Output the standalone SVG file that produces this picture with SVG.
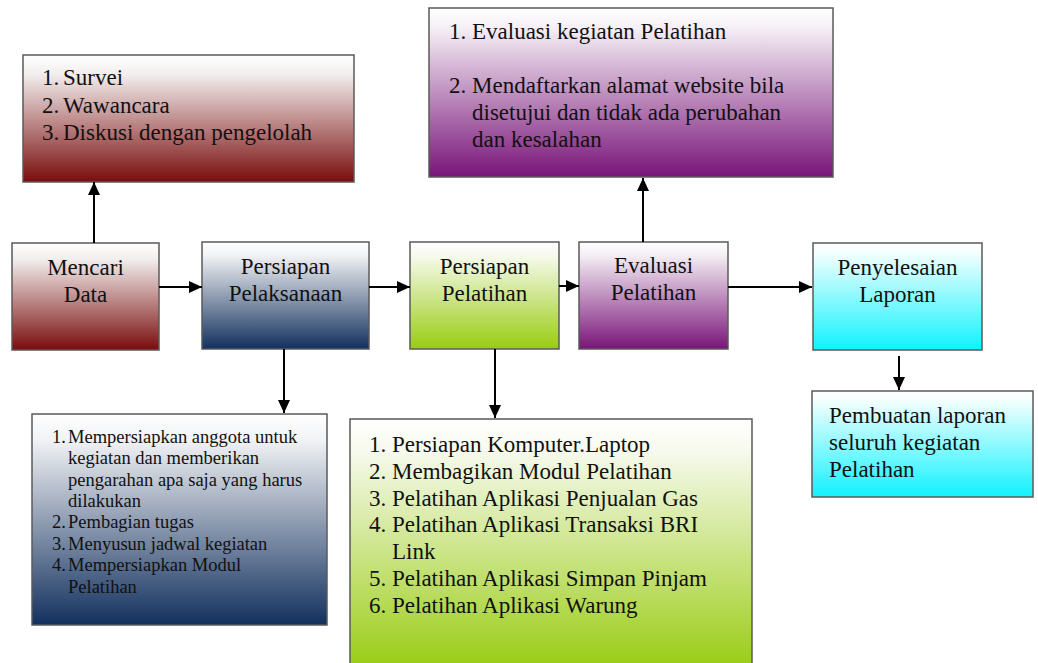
<svg xmlns="http://www.w3.org/2000/svg" width="1038" height="663" viewBox="0 0 1038 663">
<defs>
<linearGradient id="gRed" x1="0" y1="0" x2="0" y2="1"><stop offset="0" stop-color="#ffffff"/><stop offset="0.15" stop-color="#f3eeee"/><stop offset="1" stop-color="#7a0c0c"/></linearGradient>
<linearGradient id="gNavy" x1="0" y1="0" x2="0" y2="1"><stop offset="0" stop-color="#ffffff"/><stop offset="0.12" stop-color="#f2f3f5"/><stop offset="1" stop-color="#12305e"/></linearGradient>
<linearGradient id="gGreen" x1="0" y1="0" x2="0" y2="1"><stop offset="0" stop-color="#ffffff"/><stop offset="0.12" stop-color="#f7faee"/><stop offset="1" stop-color="#99cc11"/></linearGradient>
<linearGradient id="gPurple" x1="0" y1="0" x2="0" y2="1"><stop offset="0" stop-color="#ffffff"/><stop offset="0.12" stop-color="#f5eff5"/><stop offset="1" stop-color="#791479"/></linearGradient>
<linearGradient id="gCyan" x1="0" y1="0" x2="0" y2="1"><stop offset="0" stop-color="#ffffff"/><stop offset="0.1" stop-color="#f2ffff"/><stop offset="1" stop-color="#10f2ff"/></linearGradient>
<marker id="arr" markerUnits="userSpaceOnUse" markerWidth="13" markerHeight="12" refX="13" refY="6" orient="auto"><path d="M0,0 L13,6 L0,12 z" fill="#000"/></marker>
<style>
rect{stroke:#5a5a5a;stroke-width:1.5}
text{font-family:'Liberation Serif','DejaVu Serif',serif;fill:#111}
.t{font-size:23px}
.c{text-anchor:middle}
.s{font-size:18.5px}
.con line{stroke:#000;stroke-width:2;marker-end:url(#arr)}
</style>
</defs>

<g font-family="Liberation Serif, DejaVu Serif, serif">
<g id="box-metode">
<rect x="23" y="55" width="331" height="127" fill="url(#gRed)"/>
<text class="t" x="42" y="85">1.</text><text class="t" x="63" y="85">Survei</text>
<text class="t" x="42" y="112.5">2.</text><text class="t" x="63" y="112.5">Wawancara</text>
<text class="t" x="42" y="140">3.</text><text class="t" x="63" y="140">Diskusi dengan pengelolah</text>
</g>

<g id="node-mencari-data">
<rect x="12" y="243" width="147" height="107" fill="url(#gRed)"/>
<text class="t c" x="85.5" y="275">Mencari</text>
<text class="t c" x="85.5" y="302">Data</text>
</g>

<g id="node-persiapan-pelaksanaan">
<rect x="202" y="242" width="167" height="107" fill="url(#gNavy)"/>
<text class="t c" x="285.5" y="274">Persiapan</text>
<text class="t c" x="285.5" y="301">Pelaksanaan</text>
</g>

<g id="node-persiapan-pelatihan">
<rect x="410" y="242" width="149" height="107" fill="url(#gGreen)"/>
<text class="t c" x="484.5" y="274">Persiapan</text>
<text class="t c" x="484.5" y="301">Pelatihan</text>
</g>

<g id="node-evaluasi-pelatihan">
<rect x="579" y="242" width="149" height="107" fill="url(#gPurple)"/>
<text class="t c" x="653.5" y="273">Evaluasi</text>
<text class="t c" x="653.5" y="300">Pelatihan</text>
</g>

<g id="node-penyelesaian-laporan">
<rect x="813" y="243" width="169" height="107" fill="url(#gCyan)"/>
<text class="t c" x="897.5" y="275">Penyelesaian</text>
<text class="t c" x="897.5" y="302">Laporan</text>
</g>

<g id="box-evaluasi">
<rect x="429" y="8" width="404" height="169" fill="url(#gPurple)"/>
<text class="t" x="449" y="39">1.</text><text class="t" x="472" y="39">Evaluasi kegiatan Pelatihan</text>
<text class="t" x="449" y="93">2.</text><text class="t" x="472" y="93">Mendaftarkan alamat website bila</text>
<text class="t" x="472" y="120">disetujui dan tidak ada perubahan</text>
<text class="t" x="472" y="147">dan kesalahan</text>
</g>

<g id="box-pelaksanaan">
<rect x="32" y="414" width="295" height="211" fill="url(#gNavy)"/>
<text class="s" x="52" y="442.5">1.</text><text class="s" x="68" y="442.5">Mempersiapkan anggota untuk</text>
<text class="s" x="68" y="464">kegiatan dan memberikan</text>
<text class="s" x="68" y="485.5">pengarahan apa saja yang harus</text>
<text class="s" x="68" y="507">dilakukan</text>
<text class="s" x="52" y="528">2.</text><text class="s" x="68" y="528">Pembagian tugas</text>
<text class="s" x="52" y="549.5">3.</text><text class="s" x="68" y="549.5">Menyusun jadwal kegiatan</text>
<text class="s" x="52" y="571">4.</text><text class="s" x="68" y="571">Mempersiapkan Modul</text>
<text class="s" x="68" y="592.5">Pelatihan</text>
</g>

<g id="box-pelatihan">
<rect x="350" y="419" width="402" height="252" fill="url(#gGreen)"/>
<text class="t" x="369" y="452">1.</text><text class="t" x="392" y="452">Persiapan Komputer.Laptop</text>
<text class="t" x="369" y="478.5">2.</text><text class="t" x="392" y="478.5">Membagikan Modul Pelatihan</text>
<text class="t" x="369" y="505.5">3.</text><text class="t" x="392" y="505.5">Pelatihan Aplikasi Penjualan Gas</text>
<text class="t" x="369" y="532">4.</text><text class="t" x="392" y="532">Pelatihan Aplikasi Transaksi BRI</text>
<text class="t" x="392" y="559">Link</text>
<text class="t" x="369" y="586">5.</text><text class="t" x="392" y="586">Pelatihan Aplikasi Simpan Pinjam</text>
<text class="t" x="369" y="613">6.</text><text class="t" x="392" y="613">Pelatihan Aplikasi Warung</text>
</g>

<g id="box-laporan">
<rect x="812" y="391" width="221" height="106" fill="url(#gCyan)"/>
<text class="t" x="829" y="423">Pembuatan laporan</text>
<text class="t" x="829" y="450">seluruh kegiatan</text>
<text class="t" x="829" y="477">Pelatihan</text>
</g>
</g>

<g id="connectors" class="con">
<line x1="94" y1="243" x2="94" y2="182"/>
<line x1="159" y1="287" x2="202" y2="287"/>
<line x1="369" y1="287" x2="410" y2="287"/>
<line x1="559" y1="286" x2="579" y2="286"/>
<line x1="728" y1="287" x2="812" y2="287"/>
<line x1="643" y1="242" x2="643" y2="178"/>
<line x1="284" y1="349" x2="284" y2="413"/>
<line x1="495" y1="349" x2="495" y2="418"/>
<line x1="899" y1="356" x2="899" y2="390"/>
</g>
</svg>
